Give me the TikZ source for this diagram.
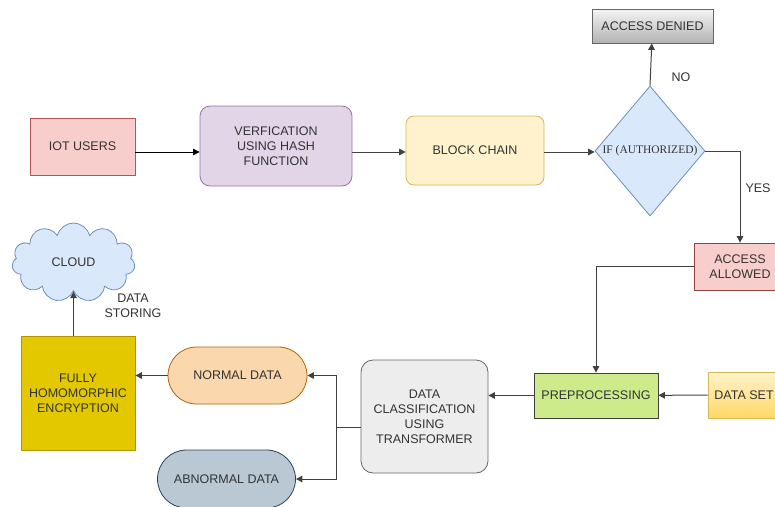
\documentclass[tikz,border=0pt]{standalone}
\usepackage{fontspec}
\setmainfont{Liberation Sans}
\newfontfamily\serifdia{Liberation Serif}
\usetikzlibrary{arrows.meta,positioning,calc,shapes.geometric,shapes.misc,shapes.symbols}

\definecolor{redfill}{HTML}{F8CECC}
\definecolor{redline}{HTML}{B85450}
\definecolor{purfill}{HTML}{E1D5E7}
\definecolor{purline}{HTML}{9673A6}
\definecolor{yelfill}{HTML}{FFF2CC}
\definecolor{yelline}{HTML}{D6B656}
\definecolor{yeldeep}{HTML}{FFD966}
\definecolor{bluefill}{HTML}{DAE8FC}
\definecolor{blueline}{HTML}{6C8EBF}
\definecolor{greenfill}{HTML}{CDEB8B}
\definecolor{orfill}{HTML}{FAD7AC}
\definecolor{orline}{HTML}{B46504}
\definecolor{slatefill}{HTML}{BAC8D3}
\definecolor{slateline}{HTML}{23445D}
\definecolor{goldfill}{HTML}{E3C800}
\definecolor{goldline}{HTML}{B09500}
\definecolor{txt}{HTML}{333333}

\begin{document}
\begin{tikzpicture}[x=1pt, y=-1pt,
    every node/.style={font=\fontsize{12.5}{15}\selectfont, text=txt, align=center, inner sep=0pt},
    box/.style={draw, line width=0.8pt, minimum width=#1},
    conn/.style={line width=1pt, black!75, -{Triangle[length=6.5pt,width=6.5pt]}}]
    \useasboundingbox (0,0) rectangle (775,506);

    % Top row
    \node[box=105, fill=redfill, draw=redline, minimum height=57] (iot) at (82.5,146.5) {IOT USERS};
    \node[box=152, fill=purfill, draw=purline, rounded corners=10pt, minimum height=80] (verify) at (276,146) {VERFICATION\\USING HASH\\FUNCTION};
    \node[box=138, fill=yelfill, draw=yelline, rounded corners=8pt, minimum height=69] (chain) at (475,150.5) {BLOCK CHAIN};
    \node[diamond, draw=blueline, fill=bluefill, line width=0.8pt, minimum width=110, minimum height=130, aspect=0.85, font=\serifdia\fontsize{11.5}{13}\selectfont] (auth) at (650,151) {IF (AUTHORIZED)};
    \node[box=121, draw=black!60, top color=black!4, bottom color=black!30, minimum height=34] (denied) at (652.5,26) {ACCESS DENIED};
    \node[box=92, fill=redfill, draw=redline!80!black, minimum height=47] (allowed) at (740,266.5) {ACCESS\\ALLOWED};

    % Bottom row
    \node[box=124, fill=greenfill, draw=black!75, minimum height=45] (prep) at (596,395.5) {PREPROCESSING};
    \node[box=72, draw=yelline, top color=yelfill, bottom color=yeldeep, minimum height=46] (dataset) at (744,395) {DATA SET};
    \node[box=127, fill=black!7, draw=black!60, rounded corners=12pt, minimum height=113] (classify) at (424.5,416.5) {DATA\\CLASSIFICATION\\USING\\TRANSFORMER};
    \node[rounded rectangle, draw=orline, fill=orfill, line width=0.8pt, minimum width=139, minimum height=57] (normal) at (237.5,375.5) {NORMAL DATA};
    \node[rounded rectangle, draw=slateline, fill=slatefill, line width=0.8pt, minimum width=138, minimum height=58] (abnormal) at (226.5,479) {ABNORMAL DATA};
    \node[box=114, fill=goldfill, draw=goldline, minimum height=114] (fhe) at (78,393) {FULLY\\HOMOMORPHIC\\ENCRYPTION};
    \node[cloud, cloud puffs=11, aspect=1.6, draw=blueline, fill=bluefill, line width=0.8pt, minimum width=123, minimum height=79] (cloud) at (73.5,262.5) {CLOUD};

    % Labels
    \node (no) at (681,77) {NO};
    \node (yes) at (758,188) {YES};
    \node (storing) at (133,306) {DATA\\STORING};

    % Connectors
    \coordinate (row) at (0,152);
    \draw[conn, black] (iot.east |- row) -- (verify.west |- row);
    \draw[conn] (verify.east |- row) -- (chain.west |- row);
    \draw[conn] (chain.east |- row) -- (auth.west |- row);
    \draw[conn] (auth.north) -- (denied);
    \draw[conn] (auth.east) -| (allowed.north);
    \draw[conn] (allowed.west) -| (prep.north);
    \draw[conn] (dataset) -- (prep);
    \draw[conn] (prep.west) -- (prep.west -| classify.east);
    \coordinate (split) at (336,427);
    \draw[line width=1pt, black!75] (classify.west |- split) -- (split);
    \draw[conn] (split) |- (normal.east);
    \draw[conn] (split) |- (abnormal.east);
    \draw[conn] (normal.west) -- (normal.west -| fhe.east);
    \draw[conn] (cloud.south |- fhe.north) -- (cloud.south);
\end{tikzpicture}
\end{document}
